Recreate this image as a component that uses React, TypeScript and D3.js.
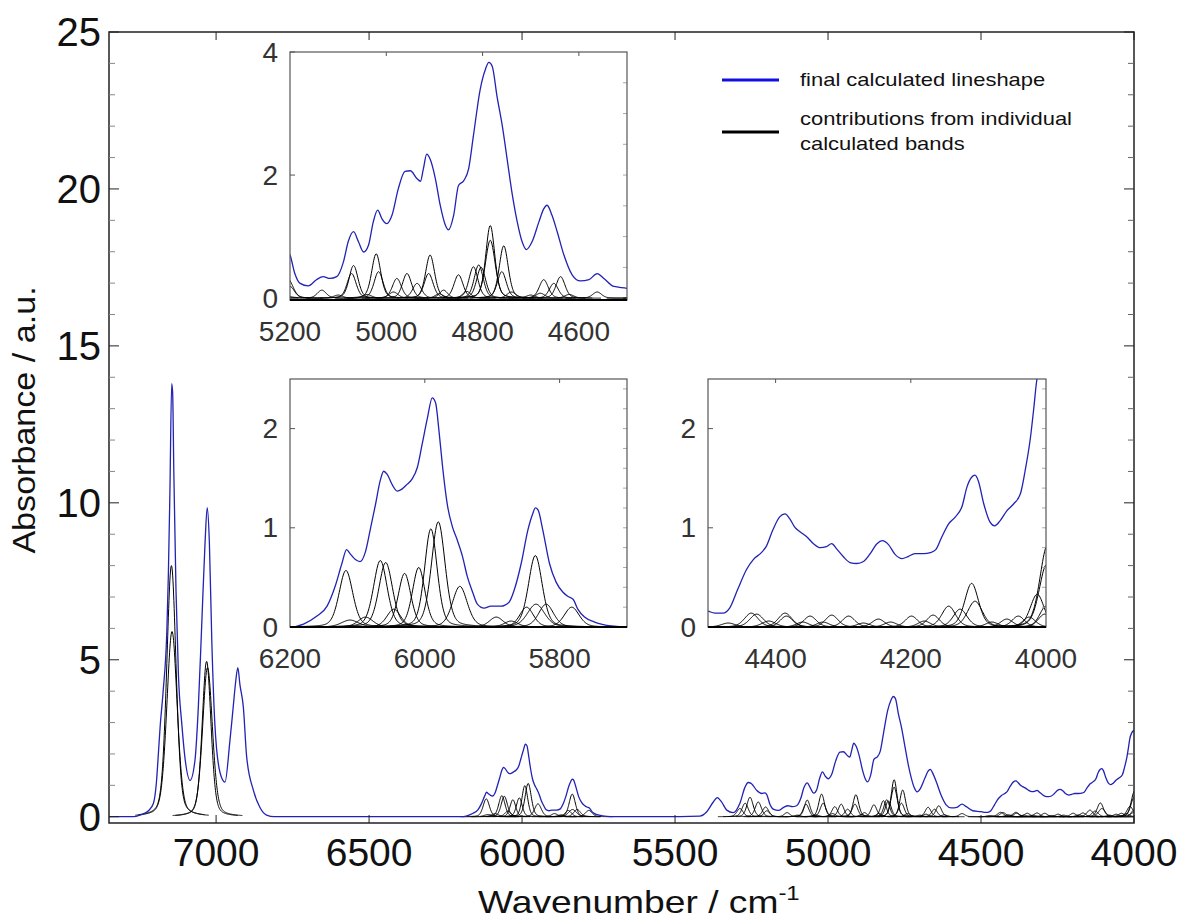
import React from 'react';
import * as d3 from 'd3';

const W = 1184;
const H = 920;
const FONT = 'Liberation Sans, Arial, Helvetica, sans-serif';

// final calculated lineshape: wavenumber / cm-1 and absorbance
const lineWn = [
  7350, 7270, 7249, 7220, 7205, 7195, 7188, 7183, 7173, 7161, 7156, 7151, 7145, 7142, 7138, 7131, 7123,
  7112, 7102, 7085, 7069, 7058, 7047, 7036, 7029, 7022, 7014, 7004, 6987, 6971, 6955, 6944, 6936, 6929,
  6922, 6911, 6900, 6878, 6857, 6835, 6810, 6500, 6200, 6180, 6160, 6145, 6133, 6123, 6116, 6111, 6103,
  6096, 6088, 6081, 6073, 6066, 6061, 6056, 6048, 6041, 6034, 6026, 6019, 6011, 6004, 5996, 5989, 5984,
  5979, 5974, 5966, 5959, 5952, 5944, 5937, 5929, 5922, 5912, 5902, 5887, 5875, 5867, 5857, 5847, 5840,
  5836, 5832, 5825, 5815, 5805, 5795, 5788, 5780, 5773, 5763, 5748, 5723, 5700, 5549, 5419, 5397, 5375,
  5362, 5348, 5331, 5310, 5288, 5271, 5261, 5250, 5233, 5217, 5206, 5200, 5190, 5179, 5162, 5145, 5131,
  5117, 5103, 5089, 5079, 5068, 5058, 5047, 5037, 5027, 5018, 5009, 4999, 4988, 4975, 4961, 4950, 4936,
  4929, 4923, 4916, 4909, 4898, 4888, 4877, 4871, 4860, 4850, 4839, 4829, 4819, 4805, 4794, 4787, 4780,
  4770, 4759, 4749, 4738, 4728, 4718, 4709, 4697, 4683, 4673, 4666, 4656, 4645, 4631, 4614, 4597, 4579,
  4562, 4548, 4527, 4500, 4490, 4478, 4468, 4456, 4443, 4433, 4421, 4414, 4404, 4394, 4386, 4379, 4372,
  4364, 4354, 4344, 4334, 4325, 4317, 4310, 4300, 4290, 4280, 4270, 4260, 4250, 4242, 4233, 4223, 4213,
  4204, 4194, 4181, 4171, 4163, 4154, 4144, 4134, 4124, 4117, 4110, 4105, 4100, 4092, 4083, 4076, 4068,
  4058, 4048, 4038, 4031, 4023, 4018, 4014, 4007, 4000,
];
const lineAbs = [
  0, 0, 0.05, 0.2, 0.42, 1.1, 2.1, 2.85, 4.0, 5.9, 7.7, 10.3, 13.8, 13.5, 10.9, 7.2, 4.5,
  2.95, 1.9, 1.16, 1.8, 3.5, 6.1, 8.75, 9.85, 8.75, 5.6, 2.95, 1.4, 1.1, 2.4, 3.5, 4.3, 4.75,
  4.2, 3.5, 1.9, 0.84, 0.3, 0.05, 0, 0, 0, 0.03, 0.11, 0.21, 0.41, 0.64, 0.78, 0.74, 0.68,
  0.66, 0.76, 0.98, 1.24, 1.48, 1.57, 1.54, 1.43, 1.37, 1.39, 1.44, 1.49, 1.61, 1.84, 2.11, 2.31, 2.26,
  1.98, 1.64, 1.21, 1.01, 0.88, 0.71, 0.51, 0.35, 0.23, 0.19, 0.21, 0.21, 0.25, 0.38, 0.64, 0.98, 1.14,
  1.2, 1.18, 0.98, 0.64, 0.45, 0.35, 0.31, 0.28, 0.18, 0.1, 0.05, 0.01, 0, 0, 0.02, 0.15, 0.47,
  0.61, 0.47, 0.21, 0.13, 0.43, 0.95, 1.09, 1.05, 0.84, 0.74, 0.76, 0.7, 0.4, 0.24, 0.2, 0.3, 0.35,
  0.32, 0.35, 0.59, 0.92, 1.08, 0.92, 0.75, 0.86, 1.24, 1.43, 1.29, 1.21, 1.35, 1.78, 2.06, 2.07, 1.94,
  1.9, 2.1, 2.34, 2.26, 1.94, 1.51, 1.18, 1.11, 1.35, 1.83, 1.91, 2.1, 2.64, 3.39, 3.72, 3.83, 3.77,
  3.28, 2.8, 2.26, 1.67, 1.24, 0.92, 0.79, 0.92, 1.24, 1.45, 1.51, 1.35, 1.08, 0.7, 0.38, 0.28, 0.3,
  0.4, 0.32, 0.19, 0.16, 0.14, 0.14, 0.19, 0.38, 0.58, 0.68, 0.75, 0.81, 0.98, 1.11, 1.14, 1.09, 1.01,
  0.96, 0.91, 0.84, 0.8, 0.81, 0.84, 0.79, 0.71, 0.65, 0.64, 0.66, 0.74, 0.84, 0.87, 0.83, 0.73, 0.69,
  0.71, 0.74, 0.74, 0.75, 0.78, 0.91, 1.04, 1.11, 1.22, 1.41, 1.51, 1.53, 1.47, 1.24, 1.06, 1.02, 1.07,
  1.17, 1.24, 1.34, 1.57, 1.91, 2.21, 2.47, 2.68, 2.75,
];

// individual calculated bands: centre (cm-1), peak height, full width at half maximum (cm-1)
const bandCentre = [
  7146, 7144, 7031, 7028,
  6117, 6111, 6088, 6066, 6058, 6046, 6030, 6009, 5991, 5980, 5948, 5894, 5872, 5849, 5836, 5835, 5820, 5782,
  5288, 5271, 5255, 5228, 5204,
  5200, 5134, 5100, 5072, 5068, 5040, 5021, 5016, 4985, 4978, 4957, 4936, 4912, 4909, 4890, 4881, 4850,
  4833, 4819, 4808, 4803, 4784, 4784, 4760, 4756, 4740, 4700, 4680, 4673, 4652, 4638, 4620, 4562,
  4470, 4436, 4428, 4410, 4386, 4384, 4360, 4349, 4330, 4317, 4292, 4270, 4248, 4230, 4199, 4180, 4167,
  4144, 4127, 4110, 4105, 4080, 4058, 4041, 4025, 4013, 4002, 4000, 3999, 3998,
];
const bandHeight = [
  8.0, 5.9, 4.95, 4.75,
  0.57, 0.07, 0.1, 0.67, 0.65, 0.18, 0.54, 0.6, 0.99, 1.06, 0.41, 0.1, 0.06, 0.2, 0.72, 0.23, 0.23, 0.2,
  0.26, 0.43, 0.62, 0.47, 0.31,
  0.19, 0.13, 0.05, 0.4, 0.53, 0.06, 0.72, 0.43, 0.1, 0.32, 0.4, 0.24, 0.4, 0.7, 0.07, 0.13, 0.38,
  0.11, 0.51, 0.54, 0.5, 1.18, 0.94, 0.43, 0.85, 0.1, 0.05, 0.08, 0.3, 0.24, 0.35, 0.06, 0.1,
  0.04, 0.14, 0.13, 0.06, 0.14, 0.11, 0.05, 0.11, 0.05, 0.12, 0.11, 0.04, 0.08, 0.05, 0.11, 0.06, 0.12,
  0.21, 0.18, 0.44, 0.26, 0.05, 0.08, 0.11, 0.1, 0.33, 0.13, 0.21, 0.63, 0.82,
];
const bandWidth = [
  36, 40, 34, 38,
  24, 30, 26, 24, 24, 24, 22, 22, 22, 24, 26, 24, 24, 24, 24, 30, 26, 26,
  24, 24, 24, 24, 24,
  22, 22, 22, 22, 22, 22, 22, 22, 22, 22, 22, 22, 22, 22, 20, 20, 22,
  20, 22, 22, 22, 22, 24, 22, 22, 22, 22, 22, 22, 22, 22, 22, 22,
  24, 24, 24, 24, 24, 22, 22, 22, 22, 22, 22, 22, 22, 22, 22, 22, 22,
  24, 24, 24, 26, 22, 22, 22, 22, 24, 22, 22, 26, 26,
];

const mainXTicks = [7000, 6500, 6000, 5500, 5000, 4500, 4000];
const mainYTicks = [0, 5, 10, 15, 20, 25];

const legendLabels = ['final calculated lineshape', 'contributions from individual', 'calculated bands'];

const BLUE = '#2222b4';
const ETA = 0.3;

const linePts: [number, number][] = lineWn.map((w, i) => [w, lineAbs[i]]);

// pseudo-Voigt band sampled over +-3 widths
const bands: [number, number][][] = bandCentre.map((c, i) => {
  const h = bandHeight[i];
  const fw = bandWidth[i];
  const pts: [number, number][] = [];
  for (let x = c + 3 * fw; x >= c - 3 * fw; x -= 1) {
    const d = (x - c) / (fw / 2);
    const g = Math.exp(-Math.LN2 * d * d);
    const l = 1 / (1 + d * d);
    pts.push([x, h * ((1 - ETA) * g + ETA * l)]);
  }
  return pts;
});

type Panel = {
  id: string;
  left: number; right: number; top: number; bottom: number;
  xDomain: [number, number]; yDomain: [number, number];
  xTicks: number[]; yTicks: number[]; minorStep: number; yMax: number;
};

const insets: Panel[] = [
  { id: 'in1', left: 290, right: 627, top: 52, bottom: 300, xDomain: [5200, 4500], yDomain: [-0.03, 4],
    xTicks: [5200, 5000, 4800, 4600], yTicks: [0, 2, 4], minorStep: 0.5, yMax: 4 },
  { id: 'in2', left: 290, right: 627, top: 379, bottom: 627, xDomain: [6200, 5700], yDomain: [0, 2.5],
    xTicks: [6200, 6000, 5800], yTicks: [0, 1, 2], minorStep: 0.2, yMax: 2.5 },
  { id: 'in3', left: 708, right: 1046, top: 379, bottom: 627, xDomain: [4500, 4000], yDomain: [0, 2.5],
    xTicks: [4400, 4200, 4000], yTicks: [0, 1, 2], minorStep: 0.2, yMax: 2.5 },
];

function Inset({ p }: { p: Panel }) {
  const x = d3.scaleLinear().domain(p.xDomain).range([p.left, p.right]);
  const y = d3.scaleLinear().domain(p.yDomain).range([p.bottom, p.top]);
  const line = d3.line<[number, number]>().x(d => x(d[0])).y(d => y(d[1]));
  const blue = d3.line<[number, number]>().x(d => x(d[0])).y(d => y(d[1])).curve(d3.curveMonotoneX);
  const [lo, hi] = [p.xDomain[1], p.xDomain[0]];
  const minors = d3.range(p.minorStep, p.yMax, p.minorStep);
  return (
    <g>
      <defs>
        <clipPath id={p.id}>
          <rect x={p.left} y={p.top} width={p.right - p.left} height={p.bottom - p.top} />
        </clipPath>
      </defs>
      <rect x={p.left} y={p.top} width={p.right - p.left} height={p.bottom - p.top} fill="#fff" />
      <g clipPath={`url(#${p.id})`}>
        {bands.map((b, i) =>
          bandCentre[i] + 3 * bandWidth[i] > lo && bandCentre[i] - 3 * bandWidth[i] < hi ? (
            <path key={i} d={line(b) || ''} fill="none" stroke="#000" strokeWidth={1} />
          ) : null
        )}
        <path d={blue(linePts) || ''} fill="none" stroke={BLUE} strokeWidth={1.3} />
      </g>
      {minors.map(v => (
        <line key={'m' + v} x1={p.right - 4} x2={p.right} y1={y(v)} y2={y(v)} stroke="#aaa" />
      ))}
      {p.yTicks.slice(1).map(v => (
        <line key={'t' + v} x1={p.left} x2={p.left + 5} y1={y(v)} y2={y(v)} stroke="#555" />
      ))}
      {p.xTicks.filter(v => v < p.xDomain[0] && v > p.xDomain[1]).map(v => (
        <line key={'xt' + v} x1={x(v)} x2={x(v)} y1={p.top} y2={p.top + 4} stroke="#555" />
      ))}
      <rect x={p.left} y={p.top} width={p.right - p.left} height={p.bottom - p.top} fill="none" stroke="#555" strokeWidth={1.2} />
      <line x1={p.left} x2={p.right} y1={p.bottom} y2={p.bottom} stroke="#000" strokeWidth={2} />
      {p.yTicks.map(v => (
        <text key={'yl' + v} x={p.left - 12} y={y(v)} dy="0.34em" textAnchor="end" fontSize={28} fill="#333" fontFamily={FONT}>
          {v}
        </text>
      ))}
      {p.xTicks.map(v => (
        <text key={'xl' + v} x={x(v)} y={p.bottom + 41} textAnchor="middle" fontSize={28} fill="#333" fontFamily={FONT}>
          {v}
        </text>
      ))}
    </g>
  );
}

export default function App() {
  const left = 109, right = 1134, top = 32, bottom = 823;
  const x = d3.scaleLinear().domain([7350, 4000]).range([left, right]);
  const y = d3.scaleLinear().domain([-0.2, 25]).range([bottom, top]);
  const line = d3.line<[number, number]>().x(d => x(d[0])).y(d => y(d[1]));
  const blue = d3.line<[number, number]>().x(d => x(d[0])).y(d => y(d[1])).curve(d3.curveMonotoneX);
  const minors = d3.range(1, 25).filter(v => v % 5 !== 0);

  return (
    <svg width={W} height={H} style={{ display: 'block', position: 'absolute', left: 0, top: 0, background: '#fff' }}>
      <defs>
        <clipPath id="mainclip">
          <rect x={left} y={top} width={right - left} height={bottom - top} />
        </clipPath>
      </defs>
      <rect width={W} height={H} fill="#fff" />
      <g clipPath="url(#mainclip)">
        {bands.map((b, i) => (
          <path key={i} d={line(b) || ''} fill="none" stroke="#000" strokeWidth={1} />
        ))}
        <path d={blue(linePts) || ''} fill="none" stroke={BLUE} strokeWidth={1.3} />
      </g>

      {/* frame and ticks */}
      <rect x={left} y={top} width={right - left} height={bottom - top} fill="none" stroke="#222" strokeWidth={1.5} />
      {minors.map(v => (
        <g key={'m' + v}>
          <line x1={left} x2={left + 6} y1={y(v)} y2={y(v)} stroke="#888" />
          <line x1={right - 6} x2={right} y1={y(v)} y2={y(v)} stroke="#666" />
        </g>
      ))}
      {mainYTicks.map(v => (
        <g key={'y' + v}>
          <line x1={left} x2={left + 10} y1={y(v)} y2={y(v)} stroke="#222" />
          <line x1={right - 10} x2={right} y1={y(v)} y2={y(v)} stroke="#222" />
          <text x={left - 8} y={y(v)} dy="0.36em" textAnchor="end" fontSize={40} fill="#111" fontFamily={FONT}>
            {v}
          </text>
        </g>
      ))}
      {mainXTicks.map(v => (
        <g key={'x' + v}>
          <line x1={x(v)} x2={x(v)} y1={bottom} y2={bottom - 8} stroke="#222" />
          <line x1={x(v)} x2={x(v)} y1={top} y2={top + 8} stroke="#222" />
          <text x={x(v)} y={bottom + 43} textAnchor="middle" fontSize={39} fill="#111" fontFamily={FONT}>
            {v}
          </text>
        </g>
      ))}

      {insets.map(p => (
        <Inset key={p.id} p={p} />
      ))}

      {/* legend */}
      <line x1={722} x2={779} y1={80} y2={80} stroke="#1010e0" strokeWidth={3} />
      <line x1={722} x2={779} y1={132} y2={132} stroke="#000" strokeWidth={3} />
      <g fontFamily={FONT} fontSize={18} fill="#111">
        <text transform="translate(800,86) scale(1.22,1)">{legendLabels[0]}</text>
        <text transform="translate(800,125) scale(1.22,1)">{legendLabels[1]}</text>
        <text transform="translate(800,150) scale(1.22,1)">{legendLabels[2]}</text>
      </g>

      {/* axis titles */}
      <text transform="translate(35,420) rotate(-90) scale(1.1,1)" textAnchor="middle" fontSize={31} fill="#111" fontFamily={FONT}>
        Absorbance / a.u.
      </text>
      <g transform="translate(478,913) scale(1.2,1)">
        <text x={0} y={0} fontSize={31} fill="#111" fontFamily={FONT}>
          Wavenumber / cm
          <tspan fontSize={20} dy={-13}>-1</tspan>
        </text>
      </g>
    </svg>
  );
}
